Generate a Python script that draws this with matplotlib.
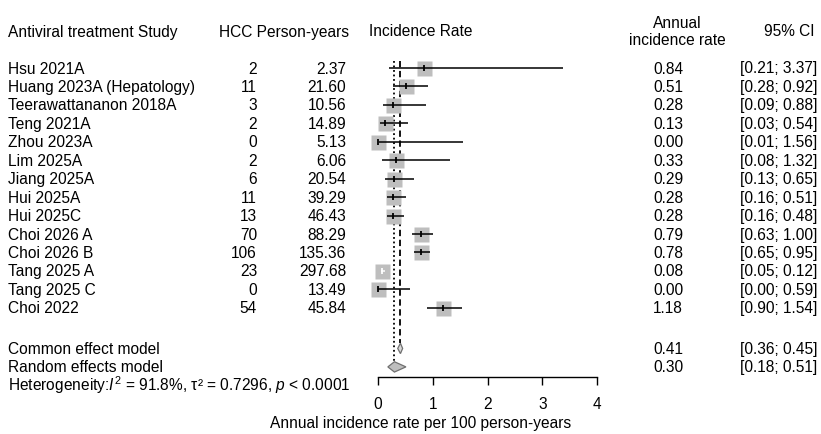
import numpy as np
import matplotlib.pyplot as plt
from matplotlib import transforms
from matplotlib.patches import Polygon

plt.rcParams['font.family'] = ['Liberation Sans', 'DejaVu Sans']
plt.rcParams['mathtext.fontset'] = 'custom'
plt.rcParams['mathtext.rm'] = 'Liberation Sans'
plt.rcParams['mathtext.it'] = 'Liberation Sans:italic'

studies = ["Hsu 2021A", "Huang 2023A (Hepatology)", "Teerawattananon 2018A",
           "Teng 2021A", "Zhou 2023A", "Lim 2025A", "Jiang 2025A", "Hui 2025A",
           "Hui 2025C", "Choi 2026 A", "Choi 2026 B", "Tang 2025 A",
           "Tang 2025 C", "Choi 2022"]
hcc = [2, 11, 3, 2, 0, 2, 6, 11, 13, 70, 106, 23, 0, 54]
person_years = [2.37, 21.60, 10.56, 14.89, 5.13, 6.06, 20.54, 39.29, 46.43,
                88.29, 135.36, 297.68, 13.49, 45.84]
rate = [0.84, 0.51, 0.28, 0.13, 0.00, 0.33, 0.29, 0.28, 0.28, 0.79, 0.78,
        0.08, 0.00, 1.18]
ci_lo = [0.21, 0.28, 0.09, 0.03, 0.01, 0.08, 0.13, 0.16, 0.16, 0.63, 0.65,
         0.05, 0.00, 0.90]
ci_hi = [3.37, 0.92, 0.88, 0.54, 1.56, 1.32, 0.65, 0.51, 0.48, 1.00, 0.95,
         0.12, 0.59, 1.54]

models = ["Common effect model", "Random effects model"]
model_est = [0.41, 0.30]
model_lo = [0.36, 0.18]
model_hi = [0.45, 0.51]
xticks = [0, 1, 2, 3, 4]

W, H = 821, 435
fig = plt.figure(figsize=(W / 100, H / 100), dpi=100)

# layout in pixels
X0, X4 = 378, 597
Y_FIRST, PITCH = 69, 18.45
Y_TOP, Y_AXIS = 55, 378
FS = 11.2

ax = fig.add_axes([X0 / W, 1 - Y_AXIS / H, (X4 - X0) / W, (Y_AXIS - Y_TOP) / H])
ax.set_xlim(0, 4)
ax.set_ylim((Y_AXIS - Y_FIRST) / PITCH, (Y_TOP - Y_FIRST) / PITCH)
for s in ['top', 'right', 'left']:
    ax.spines[s].set_visible(False)
ax.spines['bottom'].set_bounds(0, 4)
ax.spines['bottom'].set_linewidth(1.0)
ax.set_yticks([])
ax.set_xticks(xticks)
ax.tick_params(axis='x', direction='out', length=6, width=1.0, pad=8, labelsize=FS)

rows = np.arange(len(studies))
row_model = [15.2, 16.2]
row_het = 17.15
diam_h = 0.28

px_per_x = (X4 - X0) / 4
sq = 15  # square side in px

# reference lines (random = dotted, common = dashed)
top = (62 - Y_FIRST) / PITCH
ax.plot([model_est[1]] * 2, [top, row_model[1] - diam_h], color='black', lw=1.3,
        ls=(0, (1, 1.5)))
ax.plot([model_est[0]] * 2, [top, row_model[0] - diam_h], color='black', lw=1.3,
        ls=(0, (3.5, 2)))

# study squares and CIs
ax.plot(rate, rows, ls='none', marker='s', markersize=sq * 0.72,
        color='#BEBEBE', mec='none', clip_on=False, zorder=3)
for i in rows:
    inside = (ci_hi[i] - ci_lo[i]) * px_per_x < sq
    c = 'white' if inside else 'black'
    ax.plot([ci_lo[i], ci_hi[i]], [i, i], color=c, lw=1.1, zorder=4,
            clip_on=False, solid_capstyle='butt')
    ax.plot([rate[i]], [i], marker='|', markersize=5, mew=1.3, color=c,
            zorder=5, clip_on=False)

# diamonds
fills = ['#D9D9D9', '#BEBEBE']
for k in range(2):
    y = row_model[k]
    pts = [(model_lo[k], y), (model_est[k], y - diam_h),
           (model_hi[k], y), (model_est[k], y + diam_h)]
    ax.add_patch(Polygon(pts, closed=True, facecolor=fills[k],
                         edgecolor='#707070', lw=0.9, zorder=4))

# text columns
tr = transforms.blended_transform_factory(fig.transFigure, ax.transData)
def col(xpx, y, s, ha='left', **kw):
    ax.text(xpx / W, y, s, transform=tr, ha=ha, va='center', fontsize=FS, **kw)

hdr = (32 - Y_FIRST) / PITCH
col(8, hdr, "Antiviral treatment Study")
col(219, hdr, "HCC Person-years")
col(421, hdr, "Incidence Rate", ha='center')
col(677, hdr, "Annual\nincidence rate", ha='center', linespacing=1.2)
col(789, hdr, "95% CI", ha='center')

for i in rows:
    col(8, i, studies[i])
    col(257, i, f"{hcc[i]}", ha='right')
    col(346, i, f"{person_years[i]:.2f}", ha='right')
    col(683, i, f"{rate[i]:.2f}", ha='right')
    col(817, i, f"[{ci_lo[i]:.2f}; {ci_hi[i]:.2f}]", ha='right')

for k in range(2):
    col(8, row_model[k], models[k])
    col(683, row_model[k], f"{model_est[k]:.2f}", ha='right')
    col(817, row_model[k], f"[{model_lo[k]:.2f}; {model_hi[k]:.2f}]", ha='right')

col(8, row_het, r"Heterogeneity:$I^2$ = 91.8%, τ² = 0.7296, $p$ < 0.0001")

fig.text(421 / W, 1 - 424 / H, "Annual incidence rate per 100 person-years",
         ha='center', va='center', fontsize=FS)

fig.savefig('out.png', dpi=100)
